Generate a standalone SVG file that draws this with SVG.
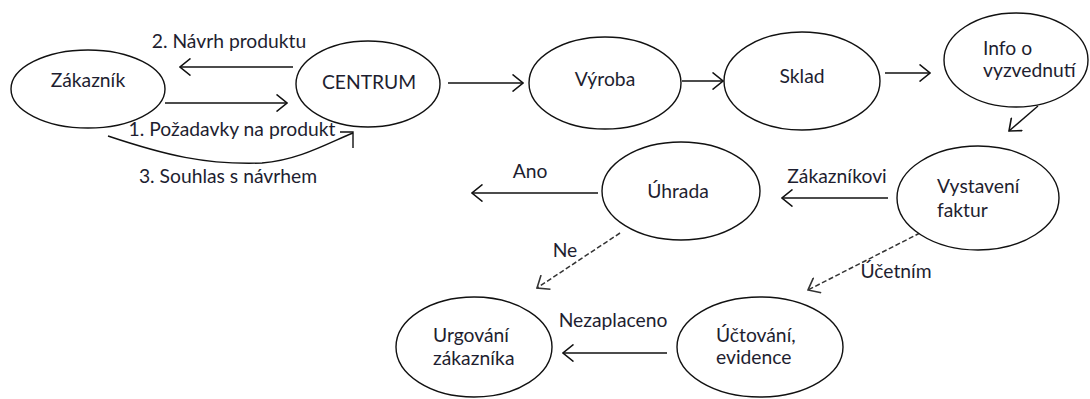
<svg xmlns="http://www.w3.org/2000/svg" width="1090" height="399" viewBox="0 0 1090 399">
<defs>
<marker id="arr" markerUnits="userSpaceOnUse" viewBox="0 0 12 18" refX="11" refY="9" markerWidth="12" markerHeight="18" orient="auto">
<path d="M0.5,0.5 L11,9 L0.5,17.5" fill="none" stroke="#111" stroke-width="1.6"/>
</marker>
<marker id="arrd" markerUnits="userSpaceOnUse" viewBox="0 0 12 18" refX="11" refY="9" markerWidth="12" markerHeight="18" orient="auto">
<path d="M0.5,0.5 L11,9 L0.5,17.5" fill="none" stroke="#333" stroke-width="1.6"/>
</marker>
</defs>
<style>
.node ellipse{fill:#fff;stroke:#111;stroke-width:1.4}
text{font-family:Lato,"Open Sans","Liberation Sans",sans-serif;font-size:19.3px;fill:#1e1e30}
.c{text-anchor:middle}
.ln{fill:none;stroke:#111;stroke-width:1.4}
.ln.a{marker-end:url(#arr)}
.dash{fill:none;stroke:#333;stroke-width:1.5;stroke-dasharray:5 2.5;marker-end:url(#arrd)}
</style>
<rect width="1090" height="399" fill="#fff"/>
<g id="connectors">
<line class="ln a" x1="293" y1="67" x2="180" y2="67"/>
<line class="ln a" x1="165" y1="103" x2="287" y2="103"/>
<path class="ln" d="M108,136 C165,155 205,165 262,163 C300,160 330,142 353,133"/>
<path class="ln" d="M340,132 L353,132 L353,148"/>
<line class="ln a" x1="448" y1="83" x2="523" y2="83"/>
<line class="ln a" x1="682" y1="81" x2="723" y2="81"/>
<line class="ln a" x1="885" y1="73" x2="930" y2="73"/>
<line class="ln a" x1="1038" y1="106" x2="1009" y2="131"/>
<line class="ln a" x1="888" y1="198" x2="782" y2="198"/>
<line class="ln a" x1="598" y1="193" x2="472" y2="193"/>
<line class="dash" x1="620" y1="233" x2="537" y2="288"/>
<line class="dash" x1="920" y1="233" x2="808" y2="290"/>
<line class="ln a" x1="667" y1="353" x2="563" y2="353"/>
<text class="c" x="229" y="48">2. Návrh produktu</text>
<text class="c" x="232" y="136">1. Požadavky na produkt</text>
<text class="c" x="228" y="183">3. Souhlas s návrhem</text>
<text class="c" x="837" y="183">Zákazníkovi</text>
<text class="c" x="530" y="178">Ano</text>
<text class="c" x="565" y="257">Ne</text>
<text class="c" x="896" y="278">Účetním</text>
<text class="c" x="613" y="327">Nezaplaceno</text>
</g>
<g id="zakaznik" class="node"><ellipse cx="88" cy="89" rx="77" ry="39"/><text class="c" x="88" y="87">Zákazník</text></g>
<g id="centrum" class="node"><ellipse cx="368" cy="84" rx="72" ry="43"/><text class="c" x="369" y="89">CENTRUM</text></g>
<g id="vyroba" class="node"><ellipse cx="605" cy="83" rx="76" ry="46"/><text class="c" x="605" y="86">Výroba</text></g>
<g id="sklad" class="node"><ellipse cx="802" cy="81" rx="78" ry="49"/><text class="c" x="802" y="83">Sklad</text></g>
<g id="info" class="node"><ellipse cx="1016" cy="60" rx="72" ry="47"/><text x="983" y="55">Info o</text><text x="983" y="77">vyzvednutí</text></g>
<g id="vystaveni" class="node"><ellipse cx="978" cy="198" rx="81" ry="52"/><text x="937" y="193">Vystavení</text><text x="937" y="217">faktur</text></g>
<g id="uhrada" class="node"><ellipse cx="681" cy="191" rx="79" ry="49"/><text class="c" x="678" y="198">Úhrada</text></g>
<g id="urgovani" class="node"><ellipse cx="474" cy="347" rx="78" ry="50"/><text x="433" y="342">Urgování</text><text x="433" y="365">zákazníka</text></g>
<g id="uctovani" class="node"><ellipse cx="760" cy="347" rx="83" ry="50"/><text x="716" y="342">Účtování,</text><text x="716" y="364">evidence</text></g>
</svg>
